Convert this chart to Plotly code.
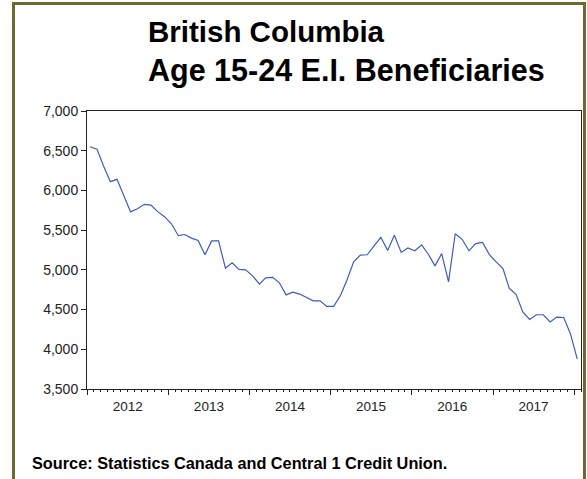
import pandas as pd
import plotly.graph_objects as go

# Monthly observations, Jan 2012 .. Jan 2018
months = pd.date_range("2012-01-01", periods=73, freq="MS")
beneficiaries = [
    6550, 6520, 6310, 6110, 6140, 5930, 5730, 5770, 5825, 5815, 5730, 5670,
    5580, 5430, 5445, 5400, 5370, 5190, 5365, 5365, 5020, 5090, 5005, 5000,
    4925, 4820, 4900, 4905, 4840, 4685, 4720, 4695, 4655, 4610, 4610, 4540,
    4540, 4680, 4865, 5100, 5185, 5190, 5300, 5410, 5245, 5435, 5220, 5275,
    5240, 5315, 5200, 5050, 5205, 4850, 5455, 5385, 5240, 5330, 5345, 5195,
    5100, 5015, 4770, 4690, 4470, 4375, 4435, 4435, 4345, 4405, 4400, 4200,
    3880,
]
title_lines = ["British Columbia", "Age 15-24 E.I. Beneficiaries"]
source_text = "Source: Statistics Canada and Central 1 Credit Union."

W, H = 587, 479
L, R, T, B = 87, 6, 111, 90
pw, ph = W - L - R, H - T - B

def px(x):
    return (x - L) / pw

def py(y):
    return (H - B - y) / ph

# plot points at the middle of each month
xpos = months + pd.Timedelta(days=14)

fig = go.Figure()
fig.add_trace(go.Scatter(
    x=xpos, y=beneficiaries, mode="lines",
    line=dict(color="#3d5db8", width=1.2),
    hoverinfo="x+y", showlegend=False,
))

font_family = "Arial, Liberation Sans, sans-serif"
fig.update_layout(
    width=W, height=H,
    margin=dict(l=L, r=R, t=T, b=B, pad=0),
    paper_bgcolor="white", plot_bgcolor="white",
    font=dict(family=font_family, color="#222222", size=12),
    xaxis=dict(
        type="date",
        range=["2012-01-01", "2018-02-01"],
        tick0="2012-01-01", dtick="M12",
        tickformat="%Y", ticklabelmode="period",
        ticks="outside", ticklen=5, tickwidth=1, tickcolor="#222222",
        minor=dict(dtick="M1", ticks="outside", ticklen=2, tickwidth=1, tickcolor="#222222"),
        showgrid=False, zeroline=False,
        showline=True, linecolor="#222222", linewidth=1, mirror=True,
        tickfont=dict(size=13.5, color="#222222"),
    ),
    yaxis=dict(
        range=[3500, 7000], dtick=500, tickformat=",d",
        ticks="outside", ticklen=5, tickwidth=1, tickcolor="#222222",
        showgrid=False, zeroline=False,
        showline=True, linecolor="#222222", linewidth=1, mirror=True,
        tickfont=dict(size=14, color="#222222"),
    ),
)

# Title lines
fig.add_annotation(text="<b>%s</b>" % title_lines[0], xref="paper", yref="paper",
                   x=px(146), y=py(31), xanchor="left", yanchor="middle",
                   showarrow=False, font=dict(size=29.5, color="black"))
fig.add_annotation(text="<b>%s</b>" % title_lines[1], xref="paper", yref="paper",
                   x=px(146), y=py(70), xanchor="left", yanchor="middle",
                   showarrow=False, font=dict(size=30.5, color="black"))
fig.add_annotation(text="<b>%s</b>" % source_text, xref="paper", yref="paper",
                   x=px(30), y=py(463), xanchor="left", yanchor="middle",
                   showarrow=False, font=dict(size=16.3, color="black"))

# olive frame around the exhibit
olive = "#6b6b30"
fig.add_shape(type="line", xref="paper", yref="paper",
              x0=px(13.5), x1=px(13.5), y0=py(2), y1=py(H + 5),
              line=dict(color=olive, width=3))
fig.add_shape(type="line", xref="paper", yref="paper",
              x0=px(12), x1=px(586), y0=py(3.5), y1=py(3.5),
              line=dict(color=olive, width=3))
fig.add_shape(type="line", xref="paper", yref="paper",
              x0=px(584.5), x1=px(584.5), y0=py(2), y1=py(H + 5),
              line=dict(color=olive, width=3))

fig.write_html(
    "out.html",
    config={"displayModeBar": False},
    post_script="document.body.style.margin='0';document.body.style.padding='0';",
)
